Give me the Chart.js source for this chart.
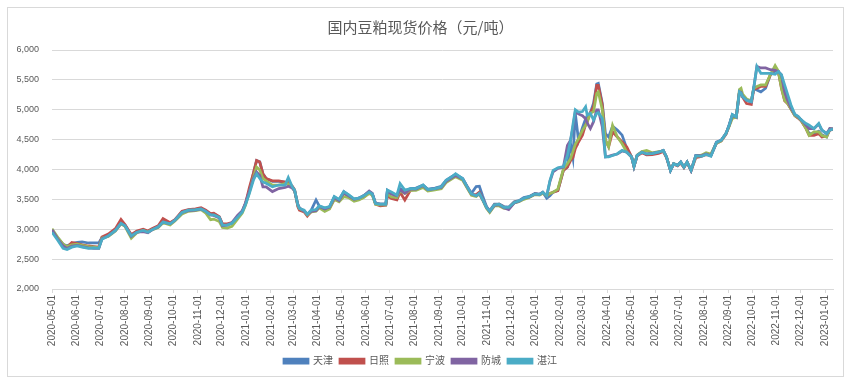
<!DOCTYPE html>
<html>
<head>
<meta charset="utf-8">
<script src="https://cdn.jsdelivr.net/npm/chart.js@4.4.1/dist/chart.umd.min.js"></script>
<style>
  html, body { margin: 0; padding: 0; background: #fff; }
  #wrap { width: 847px; height: 380px; }
</style>
</head>
<body>
<div id="wrap"><canvas id="soyChart" width="847" height="380"></canvas></div>
<script>
const seriesNames = ['天津', '日照', '宁波', '防城', '湛江'];
const seriesColors = ['#4F81BD', '#C0504D', '#9BBB59', '#8064A2', '#4BACC6'];

const monthLabels = [
  '2020-05-01','2020-06-01','2020-07-01','2020-08-01','2020-09-01','2020-10-01','2020-11-01','2020-12-01',
  '2021-01-01','2021-02-01','2021-03-01','2021-04-01','2021-05-01','2021-06-01','2021-07-01','2021-08-01',
  '2021-09-01','2021-10-01','2021-11-01','2021-12-01','2022-01-01','2022-02-01','2022-03-01','2022-04-01',
  '2022-05-01','2022-06-01','2022-07-01','2022-08-01','2022-09-01','2022-10-01','2022-11-01','2022-12-01',
  '2023-01-01'
];

const dates = [
  '2020-05-01','2020-05-08','2020-05-15','2020-05-20','2020-05-26','2020-06-02','2020-06-08','2020-06-16',
  '2020-06-23','2020-06-29','2020-07-03','2020-07-11','2020-07-20','2020-07-27','2020-08-01','2020-08-09',
  '2020-08-16','2020-08-24','2020-08-30','2020-09-04','2020-09-12','2020-09-18','2020-09-27','2020-10-03',
  '2020-10-12','2020-10-20','2020-10-29','2020-11-05','2020-11-11','2020-11-17','2020-11-21','2020-11-28',
  '2020-12-02','2020-12-08','2020-12-14','2020-12-21','2020-12-27','2020-12-31','2021-01-05','2021-01-10',
  '2021-01-14','2021-01-18','2021-01-22','2021-01-26','2021-02-03','2021-02-11','2021-02-19','2021-02-23',
  '2021-02-28','2021-03-03','2021-03-07','2021-03-09','2021-03-15','2021-03-19','2021-03-24','2021-03-30',
  '2021-04-03','2021-04-10','2021-04-16','2021-04-22','2021-04-28','2021-05-04','2021-05-10','2021-05-17',
  '2021-05-23','2021-05-29','2021-06-05','2021-06-09','2021-06-13','2021-06-19','2021-06-26','2021-06-28',
  '2021-07-03','2021-07-10','2021-07-14','2021-07-20','2021-07-27','2021-08-03','2021-08-12','2021-08-18',
  '2021-08-27','2021-09-04','2021-09-10','2021-09-17','2021-09-22','2021-10-01','2021-10-07','2021-10-12',
  '2021-10-18','2021-10-22','2021-10-26','2021-10-31','2021-11-04','2021-11-10','2021-11-16','2021-11-22',
  '2021-11-28','2021-12-05','2021-12-11','2021-12-17','2021-12-24','2021-12-31','2022-01-06','2022-01-10',
  '2022-01-15','2022-01-19','2022-01-23','2022-01-29','2022-02-05','2022-02-10','2022-02-14','2022-02-17',
  '2022-02-20','2022-02-24','2022-03-01','2022-03-05','2022-03-07','2022-03-11','2022-03-15','2022-03-19',
  '2022-03-21','2022-03-26','2022-03-30','2022-04-03','2022-04-08','2022-04-14','2022-04-20','2022-04-26',
  '2022-05-02','2022-05-05','2022-05-09','2022-05-15','2022-05-21','2022-05-28','2022-06-05','2022-06-11',
  '2022-06-15','2022-06-20','2022-06-24','2022-06-29','2022-07-03','2022-07-07','2022-07-11','2022-07-16',
  '2022-07-22','2022-07-29','2022-08-04','2022-08-10','2022-08-17','2022-08-23','2022-08-29','2022-09-02',
  '2022-09-06','2022-09-11','2022-09-15','2022-09-17','2022-09-19','2022-09-24','2022-09-30','2022-10-03',
  '2022-10-07','2022-10-12','2022-10-18','2022-10-24','2022-10-30','2022-11-03','2022-11-07','2022-11-11',
  '2022-11-15','2022-11-19','2022-11-24','2022-11-28','2022-12-02','2022-12-08','2022-12-12','2022-12-18',
  '2022-12-24','2022-12-28','2023-01-03','2023-01-07','2023-01-11'
];

// 天津
const tianjin = [
  2960,2860,2750,2720,2760,2780,2790,2770,2770,2770,2860,2900,2990,3110,3070,2900,
  2960,2990,2960,3000,3050,3130,3100,3150,3290,3320,3330,3350,3310,3250,3260,3200,
  3080,3080,3100,3200,3300,3420,3650,3930,4150,4130,3930,3850,3800,3800,3790,3780,
  3710,3650,3400,3340,3310,3240,3320,3490,3390,3350,3370,3540,3490,3630,3570,3500,
  3520,3560,3625,3590,3430,3420,3420,3650,3600,3570,3680,3640,3680,3690,3740,3670,
  3690,3720,3820,3880,3920,3850,3710,3600,3715,3720,3560,3380,3310,3420,3420,3380,
  3370,3460,3480,3530,3550,3600,3590,3620,3520,3560,3620,3650,3990,4040,4430,4200,
  4940,4490,4700,4850,4900,4950,5110,5430,5440,5110,4600,4545,4725,4660,4575,4350,
  4210,4050,4235,4290,4250,4265,4290,4320,4210,3985,4095,4070,4125,4040,4125,3985,
  4235,4235,4265,4235,4460,4490,4600,4740,4920,4880,5300,5280,5220,5160,5135,5360,
  5330,5300,5360,5585,5650,5640,5400,5250,5105,5020,4910,4880,4825,4700,4600,4600,
  4640,4580,4545,4680,4675
];
// 日照
const rizhao = [
  2980,2850,2740,2700,2780,2760,2740,2720,2710,2700,2870,2920,3010,3165,3080,2910,
  2970,3000,2970,3010,3060,3180,3110,3160,3300,3330,3340,3360,3320,3260,3270,3210,
  3090,3090,3110,3210,3300,3430,3700,3940,4150,4125,3930,3850,3810,3810,3790,3780,
  3720,3660,3380,3320,3290,3220,3300,3320,3370,3330,3350,3500,3470,3600,3560,3490,
  3500,3540,3610,3580,3420,3390,3400,3560,3515,3490,3620,3490,3650,3670,3720,3660,
  3670,3700,3800,3860,3900,3830,3690,3580,3580,3620,3510,3360,3290,3410,3420,3370,
  3360,3450,3470,3510,3540,3590,3580,3610,3560,3600,3620,3645,3985,4040,4150,4200,
  4350,4460,4575,4750,4800,4950,5050,5410,5410,5080,4490,4380,4630,4545,4460,4375,
  4210,4050,4230,4280,4245,4250,4270,4300,4200,3990,4090,4060,4110,4030,4120,3980,
  4200,4220,4250,4240,4440,4480,4590,4730,4900,4870,5300,5290,5210,5105,5090,5340,
  5360,5390,5390,5585,5700,5640,5360,5150,5100,5010,4900,4860,4810,4685,4570,4570,
  4600,4545,4560,4660,4670
];
// 宁波
const ningbo = [
  3010,2870,2750,2710,2740,2750,2730,2710,2700,2690,2850,2880,2970,3090,3050,2850,
  2940,2980,2950,2990,3030,3110,3070,3140,3255,3300,3310,3330,3270,3160,3170,3130,
  3030,3020,3050,3170,3270,3400,3620,3870,4040,3990,3850,3810,3740,3740,3765,3760,
  3700,3640,3410,3350,3300,3240,3290,3300,3360,3300,3340,3500,3460,3545,3530,3470,
  3490,3530,3600,3570,3420,3410,3410,3600,3540,3530,3640,3600,3650,3650,3700,3640,
  3660,3680,3780,3840,3880,3820,3680,3570,3550,3590,3490,3350,3280,3390,3390,3350,
  3350,3440,3460,3500,3530,3580,3570,3600,3560,3600,3620,3670,4010,4095,4180,4300,
  4420,4515,4655,4740,4800,4940,4970,5275,5300,5000,4490,4380,4740,4545,4430,4290,
  4210,4060,4240,4300,4320,4280,4300,4310,4210,3995,4100,4070,4120,4040,4120,3990,
  4220,4240,4280,4260,4440,4480,4600,4720,4855,4880,5340,5360,5260,5180,5150,5360,
  5390,5415,5415,5590,5740,5650,5360,5160,5105,5010,4900,4870,4820,4685,4570,4630,
  4630,4570,4545,4680,4680
];
// 防城
const fangcheng = [
  2990,2840,2720,2680,2720,2730,2710,2690,2680,2680,2840,2890,2980,3100,3060,2880,
  2950,2960,2940,2990,3040,3120,3090,3150,3280,3310,3320,3340,3300,3240,3230,3190,
  3060,3070,3110,3230,3310,3440,3640,3850,3960,3900,3710,3710,3630,3680,3700,3720,
  3690,3640,3420,3360,3300,3250,3300,3310,3380,3340,3370,3530,3480,3610,3560,3500,
  3520,3560,3640,3600,3440,3420,3420,3640,3590,3560,3660,3600,3670,3670,3730,3660,
  3680,3700,3800,3860,3900,3840,3700,3590,3560,3600,3500,3370,3300,3400,3410,3360,
  3330,3440,3470,3520,3540,3590,3580,3620,3560,3800,3960,4020,4040,4400,4490,4700,
  4970,4930,4900,4850,4780,4685,4800,5000,5000,4715,4210,4220,4240,4260,4310,4290,
  4210,4050,4235,4290,4260,4270,4290,4320,4210,3985,4095,4070,4125,4040,4125,3985,
  4235,4230,4260,4230,4450,4490,4600,4740,4900,4880,5300,5290,5220,5160,5130,5360,
  5725,5700,5700,5670,5660,5640,5585,5300,5150,5030,4920,4880,4830,4740,4685,4685,
  4760,4660,4600,4685,4680
];
// 湛江
const zhanjiang = [
  2950,2820,2680,2660,2700,2720,2700,2680,2690,2680,2830,2890,2980,3100,3060,2890,
  2950,2980,2950,2990,3040,3120,3090,3150,3280,3320,3330,3340,3300,3240,3240,3200,
  3070,3070,3100,3200,3290,3410,3600,3820,3930,3850,3790,3770,3710,3740,3740,3865,
  3710,3655,3410,3350,3320,3250,3320,3330,3390,3360,3380,3550,3500,3630,3580,3510,
  3520,3560,3620,3590,3430,3420,3420,3655,3625,3570,3765,3655,3680,3680,3740,3665,
  3680,3710,3820,3875,3930,3845,3700,3590,3560,3600,3505,3365,3300,3410,3420,3365,
  3365,3450,3475,3520,3545,3590,3580,3620,3560,3815,3985,4030,4050,4235,4490,4750,
  5000,4960,4970,5050,4910,4940,4830,4940,4950,4855,4210,4210,4235,4265,4320,4290,
  4210,4050,4235,4290,4260,4265,4290,4320,4210,3985,4095,4070,4125,4040,4125,3985,
  4230,4220,4250,4220,4450,4490,4600,4740,4920,4880,5300,5280,5220,5160,5135,5360,
  5725,5610,5610,5610,5595,5640,5585,5415,5250,5080,4920,4890,4830,4770,4740,4685,
  4770,4660,4600,4660,4675
];

const seriesValues = [tianjin, rizhao, ningbo, fangcheng, zhanjiang];

const dayOffset = (s) => {
  const [y, m, d] = s.split('-').map(Number);
  return (Date.UTC(y, m - 1, d) - Date.UTC(2020, 4, 1)) / 86400000;
};
const xs = dates.map(dayOffset);
const tickDays = monthLabels.map(dayOffset);

const frame = {
  id: 'frame',
  beforeDraw(chart) {
    const c = chart.ctx;
    c.save();
    c.fillStyle = '#ffffff';
    c.fillRect(0, 0, chart.width, chart.height);
    c.strokeStyle = '#d9d9d9';
    c.lineWidth = 1;
    c.strokeRect(7.5, 7.5, 836, 369);
    c.restore();
  }
};

const fontFamily = "'Liberation Sans', 'Noto Sans CJK SC', sans-serif";

new Chart(document.getElementById('soyChart'), {
  type: 'line',
  data: {
    datasets: seriesNames.map((name, i) => ({
      label: name,
      data: seriesValues[i].map((v, j) => ({ x: xs[j], y: v })),
      borderColor: seriesColors[i],
      backgroundColor: seriesColors[i],
      borderWidth: 2.75,
      pointRadius: 0,
      tension: 0,
      // later series are drawn on top, like the original
      order: seriesNames.length - 1 - i
    }))
  },
  options: {
    responsive: false,
    animation: false,
    layout: { padding: { top: 8, left: 8, right: 14, bottom: 4 } },
    scales: {
      x: {
        type: 'linear',
        min: 0,
        max: xs[xs.length - 1],
        afterBuildTicks: (scale) => { scale.ticks = tickDays.map(v => ({ value: v })); },
        afterFit: (scale) => { scale.height = 60; },
        grid: { drawOnChartArea: false, drawTicks: true, tickLength: 4, color: '#d9d9d9' },
        border: { color: '#d9d9d9' },
        ticks: {
          autoSkip: false,
          maxRotation: 90,
          minRotation: 90,
          padding: 2,
          color: '#595959',
          font: { family: fontFamily, size: 10 },
          callback: (value, index) => monthLabels[index]
        }
      },
      y: {
        min: 2000,
        max: 6000,
        afterFit: (scale) => { scale.width = 44; },
        grid: { color: '#d9d9d9', drawTicks: false },
        border: { display: false },
        ticks: {
          stepSize: 500,
          padding: 13,
          color: '#595959',
          font: { family: fontFamily, size: 9 },
          callback: (v) => v.toLocaleString('en-US')
        }
      }
    },
    plugins: {
      title: {
        display: true,
        text: '国内豆粕现货价格（元/吨）',
        color: '#595959',
        font: { family: "'Noto Sans CJK SC', sans-serif", size: 15, weight: 'normal' },
        padding: { top: 10, bottom: 14 }
      },
      legend: {
        position: 'bottom',
        labels: {
          boxWidth: 24,
          boxHeight: 4,
          padding: 7,
          color: '#595959',
          font: { family: fontFamily, size: 10 },
          sort: (a, b) => a.datasetIndex - b.datasetIndex
        }
      },
      tooltip: { enabled: false }
    }
  },
  plugins: [frame]
});
</script>
</body>
</html>
